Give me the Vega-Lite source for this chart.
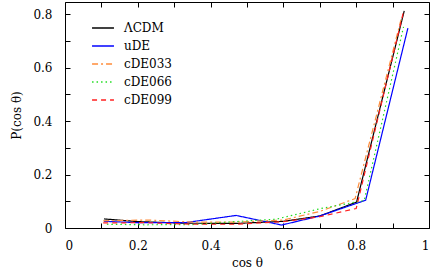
{
  "$schema": "https://vega.github.io/schema/vega-lite/v6.json",
  "width": 364,
  "height": 226,
  "autosize": "none",
  "padding": {"left": 65, "top": 2, "right": 7, "bottom": 50},
  "config": {
    "view": {"stroke": "black", "strokeWidth": 1},
    "font": "DejaVu Serif",
    "axis": {
      "domain": false,
      "grid": false,
      "tickColor": "black",
      "tickSize": -5,
      "tickWidth": 1,
      "labelColor": "black",
      "titleFontWeight": "normal",
      "titleColor": "black"
    },
    "legend": {
      "orient": "none",
      "legendX": 26,
      "legendY": 14,
      "symbolType": "stroke",
      "symbolSize": 480,
      "symbolStrokeWidth": 1.3,
      "symbolOpacity": 1,
      "labelFont": "DejaVu Serif",
      "labelFontSize": 12,
      "labelColor": "black",
      "rowPadding": -6,
      "labelOffset": 9
    }
  },
  "data": {
    "values": [
      {"model": "ΛCDM", "c": 0.107, "p": 0.034},
      {"model": "ΛCDM", "c": 0.2, "p": 0.024},
      {"model": "ΛCDM", "c": 0.33, "p": 0.018},
      {"model": "ΛCDM", "c": 0.47, "p": 0.017},
      {"model": "ΛCDM", "c": 0.6, "p": 0.025},
      {"model": "ΛCDM", "c": 0.7, "p": 0.045},
      {"model": "ΛCDM", "c": 0.801, "p": 0.097},
      {"model": "ΛCDM", "c": 0.932, "p": 0.813},
      {"model": "uDE", "c": 0.107, "p": 0.025},
      {"model": "uDE", "c": 0.2, "p": 0.02},
      {"model": "uDE", "c": 0.33, "p": 0.02},
      {"model": "uDE", "c": 0.47, "p": 0.047},
      {"model": "uDE", "c": 0.595, "p": 0.011},
      {"model": "uDE", "c": 0.7, "p": 0.045},
      {"model": "uDE", "c": 0.826, "p": 0.104},
      {"model": "uDE", "c": 0.942, "p": 0.748},
      {"model": "cDE033", "c": 0.105, "p": 0.027},
      {"model": "cDE033", "c": 0.23, "p": 0.03},
      {"model": "cDE033", "c": 0.35, "p": 0.022},
      {"model": "cDE033", "c": 0.47, "p": 0.022},
      {"model": "cDE033", "c": 0.6, "p": 0.03},
      {"model": "cDE033", "c": 0.7, "p": 0.062},
      {"model": "cDE033", "c": 0.797, "p": 0.11},
      {"model": "cDE033", "c": 0.925, "p": 0.79},
      {"model": "cDE066", "c": 0.115, "p": 0.014},
      {"model": "cDE066", "c": 0.22, "p": 0.012},
      {"model": "cDE066", "c": 0.35, "p": 0.013},
      {"model": "cDE066", "c": 0.47, "p": 0.024},
      {"model": "cDE066", "c": 0.58, "p": 0.033},
      {"model": "cDE066", "c": 0.7, "p": 0.072},
      {"model": "cDE066", "c": 0.822, "p": 0.103},
      {"model": "cDE066", "c": 0.93, "p": 0.753},
      {"model": "cDE099", "c": 0.105, "p": 0.019},
      {"model": "cDE099", "c": 0.22, "p": 0.02},
      {"model": "cDE099", "c": 0.35, "p": 0.014},
      {"model": "cDE099", "c": 0.47, "p": 0.014},
      {"model": "cDE099", "c": 0.6, "p": 0.024},
      {"model": "cDE099", "c": 0.7, "p": 0.042},
      {"model": "cDE099", "c": 0.8, "p": 0.073},
      {"model": "cDE099", "c": 0.93, "p": 0.81}
    ]
  },
  "layer": [
    {
      "mark": {"type": "line", "clip": true, "strokeWidth": 1.2},
      "encoding": {
        "x": {
          "field": "c", "type": "quantitative",
          "scale": {"domain": [0, 1], "nice": false, "zero": false},
          "axis": {
            "orient": "bottom",
            "values": [0, 0.1, 0.2, 0.3, 0.4, 0.5, 0.6, 0.7, 0.8, 0.9, 1],
            "labelExpr": "round(datum.value*10)%2==0 ? format(datum.value,'~g') : ''",
            "labelFont": "DejaVu Serif",
            "labelFontSize": 12,
            "labelPadding": 17,
            "title": "cos θ",
            "titleFont": "DejaVu Serif",
            "titleFontSize": 12,
            "titlePadding": 6
          }
        },
        "y": {
          "field": "p", "type": "quantitative",
          "scale": {"domain": [0, 0.846], "nice": false, "zero": false},
          "axis": {
            "orient": "left",
            "values": [0, 0.1, 0.2, 0.3, 0.4, 0.5, 0.6, 0.7, 0.8],
            "labelExpr": "round(datum.value*10)%2==0 ? format(datum.value,'~g') : ''",
            "labelFont": "DejaVu Serif",
            "labelFontSize": 12,
            "labelPadding": 18,
            "title": "P(cos θ)",
            "titleFont": "DejaVu Serif",
            "titleFontSize": 12,
            "titlePadding": 9
          }
        },
        "color": {
          "field": "model", "type": "nominal",
          "scale": {
            "domain": ["ΛCDM", "uDE", "cDE033", "cDE066", "cDE099"],
            "range": ["#000000", "#0000ff", "#ff8c3a", "#22dd22", "#ff2020"]
          },
          "title": null
        },
        "strokeDash": {
          "field": "model", "type": "nominal",
          "scale": {
            "domain": ["ΛCDM", "uDE", "cDE033", "cDE066", "cDE099"],
            "range": [[1, 0], [1, 0], [6, 3, 2, 3], [1.5, 3], [5, 4]]
          },
          "title": null
        }
      }
    },
    {
      "mark": {"type": "line", "opacity": 0},
      "encoding": {
        "x": {
          "field": "c", "type": "quantitative",
          "scale": {"domain": [0, 1], "nice": false, "zero": false},
          "axis": {
            "orient": "top",
            "values": [0, 0.1, 0.2, 0.3, 0.4, 0.5, 0.6, 0.7, 0.8, 0.9, 1],
            "labels": false,
            "title": null
          }
        },
        "y": {
          "field": "p", "type": "quantitative",
          "scale": {"domain": [0, 0.846], "nice": false, "zero": false},
          "axis": {
            "orient": "right",
            "values": [0, 0.1, 0.2, 0.3, 0.4, 0.5, 0.6, 0.7, 0.8],
            "labels": false,
            "title": null
          }
        },
        "detail": {"field": "model", "type": "nominal"}
      }
    }
  ],
  "resolve": {"axis": {"x": "independent", "y": "independent"}}
}
